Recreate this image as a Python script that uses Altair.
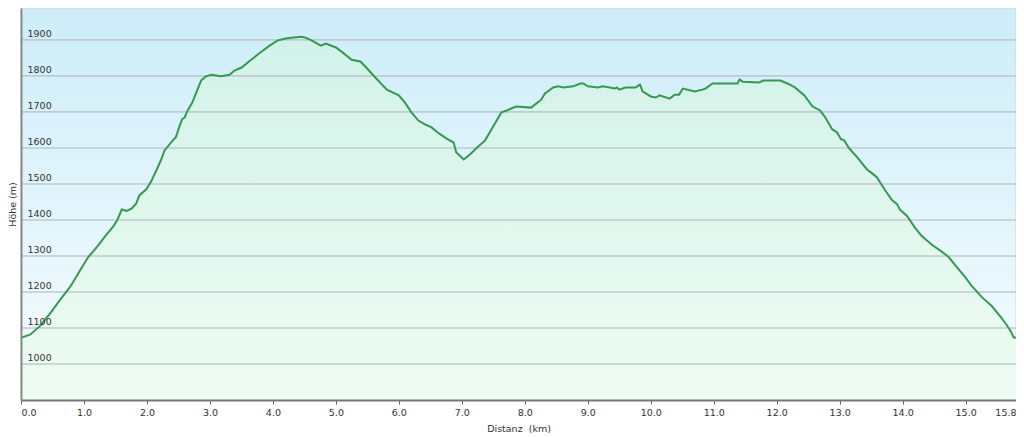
import altair as alt
import pandas as pd

km = [0.00, 0.15, 0.30, 0.46, 0.62, 0.78, 0.92, 1.06, 1.22, 1.35, 1.46, 1.53, 1.60, 1.68,
      1.76, 1.83, 1.88, 1.99, 2.07, 2.15, 2.22, 2.28, 2.41, 2.46, 2.52, 2.56, 2.60, 2.64,
      2.72, 2.78, 2.86, 2.93, 3.02, 3.18, 3.31, 3.39, 3.51, 3.62, 3.78, 3.93, 4.07, 4.18,
      4.29, 4.46, 4.54, 4.62, 4.76, 4.84, 5.00, 5.10, 5.25, 5.39, 5.50, 5.63, 5.81, 6.00,
      6.10, 6.20, 6.31, 6.42, 6.52, 6.63, 6.76, 6.87, 6.91, 7.03, 7.13, 7.23, 7.37, 7.50,
      7.63, 7.71, 7.86, 8.10, 8.26, 8.32, 8.45, 8.53, 8.61, 8.77, 8.88, 8.93, 9.00, 9.16,
      9.24, 9.43, 9.46, 9.50, 9.60, 9.76, 9.83, 9.87, 10.00, 10.08, 10.14, 10.30, 10.38,
      10.45, 10.51, 10.70, 10.82, 10.87, 10.98, 11.38, 11.41, 11.46, 11.72, 11.79, 12.06,
      12.17, 12.29, 12.44, 12.57, 12.69, 12.77, 12.88, 12.96, 13.02, 13.07, 13.15, 13.28,
      13.43, 13.51, 13.59, 13.72, 13.83, 13.91, 13.96, 14.07, 14.19, 14.30, 14.46, 14.62,
      14.73, 14.88, 15.00, 15.09, 15.25, 15.41, 15.54, 15.65, 15.73, 15.76, 15.80]
hoehe = [1073, 1082, 1105, 1140, 1178, 1214, 1255, 1295, 1328, 1358, 1381, 1400, 1429, 1425,
         1432, 1446, 1468, 1485, 1508, 1538, 1565, 1593, 1621, 1630, 1662, 1680, 1685, 1702,
         1726, 1752, 1787, 1798, 1803, 1799, 1803, 1815, 1824, 1840, 1862, 1882, 1898, 1903,
         1906, 1909, 1905, 1898, 1884, 1890, 1879, 1866, 1845, 1840, 1820, 1795, 1762, 1746,
         1725, 1699, 1676, 1665, 1657, 1641, 1626, 1615, 1588, 1568, 1582, 1599, 1621, 1660,
         1699, 1704, 1715, 1712, 1734, 1751, 1768, 1771, 1768, 1771, 1779, 1779, 1771, 1768,
         1771, 1765, 1768, 1762, 1768, 1768, 1776, 1757, 1743, 1740, 1746, 1737, 1748,
         1748, 1765, 1757, 1762, 1765, 1779, 1779, 1790, 1784, 1782, 1787, 1787,
         1779, 1768, 1746, 1715, 1704, 1685, 1652, 1643, 1624, 1621, 1599, 1574,
         1541, 1530, 1519, 1483, 1455, 1444, 1428, 1411, 1380, 1356, 1332, 1312,
         1297, 1265, 1240, 1218, 1187, 1162, 1134, 1109, 1087, 1074, 1073]
y_ticks = [1000, 1100, 1200, 1300, 1400, 1500, 1600, 1700, 1800, 1900]
x_ticks = [0.0, 1.0, 2.0, 3.0, 4.0, 5.0, 6.0, 7.0, 8.0, 9.0, 10.0, 11.0, 12.0, 13.0, 14.0, 15.0, 15.8]

W, H = 995, 392
Y_MIN, Y_MAX = 900, 1988.6
FONT = "DejaVu Sans"

df = pd.DataFrame({"km": km, "hoehe": hoehe})
grid_df = pd.DataFrame({"hoehe": y_ticks})

xs = alt.Scale(domain=[0, 15.8], nice=False, zero=False)
ys = alt.Scale(domain=[Y_MIN, Y_MAX], nice=False, zero=False)

x_axis = alt.Axis(
    values=x_ticks, format=".1f", labelFlush=True, grid=False,
    ticks=True, tickSize=4, tickColor="#666666", tickWidth=1,
    domainColor="#777777", domainWidth=2,
    labelPadding=3, labelFontSize=9.5, labelColor="#333333",
    title="Distanz\u00a0 (km)", titleFontSize=9.5, titleFontWeight="normal",
    titleColor="#333333", titleY=31, titleBaseline="alphabetic", zindex=1)
y_axis = alt.Axis(
    values=y_ticks, format="d", grid=False, ticks=False, tickSize=0,
    domainColor="#8a8a8a", domainWidth=2,
    labelAlign="left", labelPadding=-6, labelBaseline="alphabetic", labelOffset=-3,
    labelFontSize=9.5, labelColor="#333333",
    title="Höhe (m)", titleFontSize=9.5, titleFontWeight="normal", titleColor="#333333",
    titleAngle=270, titleX=-9, titleY=H / 2, titleAlign="center", titleBaseline="middle",
    zindex=1)

bg = alt.Chart(pd.DataFrame({"a": [0]})).mark_rect(
    color=alt.Gradient(
        gradient="linear",
        stops=[alt.GradientStop(color="#cdedf9", offset=0),
               alt.GradientStop(color="#f6fcfe", offset=1)],
        x1=0, x2=0, y1=0, y2=1),
    stroke="#cfd5d8", strokeWidth=1,
).encode(x=alt.value(0), x2=alt.value(W), y=alt.value(0), y2=alt.value(H))

area = alt.Chart(df).mark_area(
    color=alt.Gradient(
        gradient="linear",
        stops=[alt.GradientStop(color="#d2f2e9", offset=0),
               alt.GradientStop(color="#effcf3", offset=1)],
        x1=0, x2=0, y1=0, y2=1),
    clip=True,
).encode(
    x=alt.X("km:Q", scale=xs, axis=x_axis),
    y=alt.Y("hoehe:Q", scale=ys, axis=y_axis),
    y2=alt.datum(Y_MIN),
)

rules = alt.Chart(grid_df).mark_rule(color="#bfcbd0", strokeWidth=1.6).encode(
    y=alt.Y("hoehe:Q", scale=ys, axis=y_axis))

line = alt.Chart(df).mark_line(color="#35994f", strokeWidth=2, clip=True).encode(
    x=alt.X("km:Q", scale=xs, axis=x_axis),
    y=alt.Y("hoehe:Q", scale=ys, axis=y_axis))

chart = alt.layer(bg, area, rules, line).properties(
    width=W, height=H,
    padding={"left": 13, "top": 0, "right": 0, "bottom": 34},
    autosize=alt.AutoSizeParams(type="none"),
    background="white",
).configure_view(stroke=None).configure_axis(labelFont=FONT, titleFont=FONT)

chart.save("out.html", embed_options={"renderer": "svg", "actions": False})
